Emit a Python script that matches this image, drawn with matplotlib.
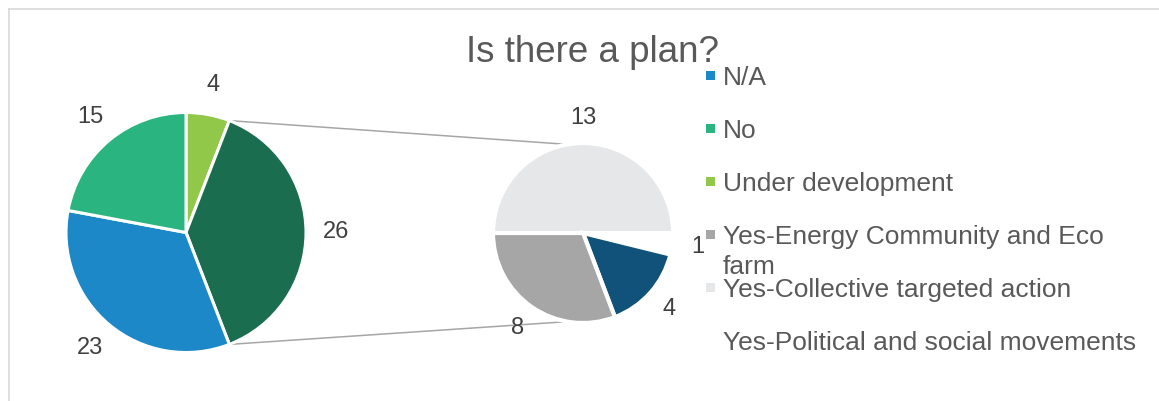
import numpy as np
import matplotlib
matplotlib.use("Agg")
import matplotlib.pyplot as plt
from matplotlib.patches import Rectangle

plt.rcParams['font.family'] = ['Liberation Sans', 'DejaVu Sans']

# main pie (clockwise from 12 o'clock); "Yes" answers are grouped in the 26 slice
main_values = [4, 26, 23, 15]
main_colors = ['#92c84a', '#1a6e4f', '#1c88c8', '#2ab580']

# breakdown of the grouped slice (clockwise from 9 o'clock)
sub_values = [13, 1, 4, 8]
sub_colors = ['#e6e7e9', '#ffffff', '#10527a', '#a6a6a6']

legend_labels = ['N/A', 'No', 'Under development',
                 'Yes-Energy Community and Eco\nfarm',
                 'Yes-Collective targeted action',
                 'Yes-Political and social movements']
legend_colors = ['#1c88c8', '#2ab580', '#92c84a', '#a6a6a6', '#e6e7e9', '#ffffff']

title = 'Is there a plan?'

W, H = 1159, 401


def fy(y):
    # pixel row (from top) -> data y
    return H - y


fig = plt.figure(figsize=(W / 100, H / 100), dpi=100)
ax = fig.add_axes([0, 0, 1, 1])

main_c = (186, fy(232.5))
main_r = 120
sub_c = (583, fy(233))
sub_r = 90

wedges, _ = ax.pie(main_values, colors=main_colors, startangle=90, counterclock=False,
                   center=main_c, radius=main_r, frame=True,
                   wedgeprops=dict(edgecolor='white', linewidth=2.2))
sub_wedges, _ = ax.pie(sub_values, colors=sub_colors, startangle=180, counterclock=False,
                       center=sub_c, radius=sub_r, frame=True,
                       wedgeprops=dict(edgecolor='white', linewidth=3))

ax.set_xlim(0, W)
ax.set_ylim(0, H)
ax.axis('off')


def put_labels(ws, vals, center, r, dist):
    for w, v in zip(ws, vals):
        mid = np.deg2rad((w.theta1 + w.theta2) / 2)
        x = center[0] + r * dist * np.cos(mid)
        y = center[1] + r * dist * np.sin(mid)
        ax.text(x, y, str(v), ha='center', va='center', fontsize=17, color='#404040')


put_labels(wedges, main_values, main_c, main_r, 1.25)
put_labels(sub_wedges, sub_values, sub_c, sub_r, 1.28)

# connector lines from the grouped slice to the breakdown pie
grp = wedges[1]
for ang, sub_ang in [(grp.theta2, 100), (grp.theta1, -100)]:
    a = np.deg2rad(ang)
    b = np.deg2rad(sub_ang)
    x0 = main_c[0] + main_r * np.cos(a)
    y0 = main_c[1] + main_r * np.sin(a)
    x1 = sub_c[0] + sub_r * np.cos(b)
    y1 = sub_c[1] + sub_r * np.sin(b)
    ax.plot([x0, x1], [y0, y1], color='#a6a6a6', lw=1.1, zorder=0)

# chart frame
ax.plot([9, 9], [fy(9), fy(H + 5)], color='#d9d9d9', lw=1.2, clip_on=False)
ax.plot([9, W + 5], [fy(9), fy(9)], color='#d9d9d9', lw=1.2, clip_on=False)

ax.text(592, fy(52), title, ha='center', va='center', fontsize=26.5, color='#595959')

# legend
base = 85
for i, (lab, col) in enumerate(zip(legend_labels, legend_colors)):
    yb = base + 53 * i
    ax.add_patch(Rectangle((706, fy(yb - 5)), 9, 9, facecolor=col, edgecolor='none'))
    for j, line in enumerate(lab.split('\n')):
        ax.text(723, fy(yb + 30 * j), line, ha='left', va='baseline',
                fontsize=19, color='#595959')

fig.savefig('out.png', dpi=100)
